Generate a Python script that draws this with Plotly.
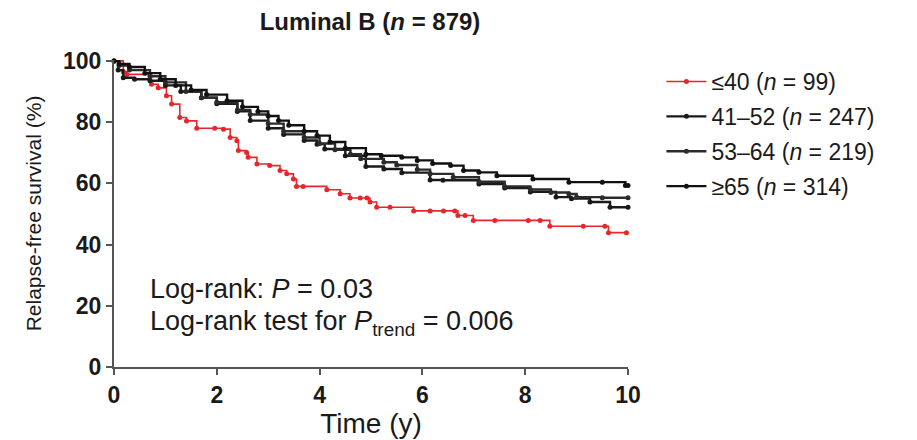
import plotly.graph_objects as go

# ---- data ----
t_le40 = [0, 0.18, 0.25, 0.73, 0.86, 1.02, 1.12, 1.28, 1.41, 1.61, 1.96, 2.13, 2.26, 2.39, 2.42, 2.58, 2.61,
          2.78, 3.03, 3.23, 3.36, 3.49, 3.55, 3.68, 4.14, 4.4, 4.59, 4.79, 4.92, 4.98, 5.11, 5.37, 5.83,
          6.15, 6.41, 6.63, 6.69, 6.83, 6.99, 7.41, 8.06, 8.29, 8.48, 9.13, 9.55, 9.62, 9.97]
s_le40 = [100, 96.5, 95.6, 92.4, 91.2, 88.6, 85.9, 81.5, 80.4, 78.0, 78.0, 77.7, 75.0, 73.9, 70.7, 70.1, 68.5,
          66.3, 65.8, 64.2, 63.1, 61.4, 59.0, 59.0, 57.9, 56.6, 55.2, 55.2, 55.2, 53.9, 52.2, 52.2, 51.0,
          51.0, 51.0, 51.0, 49.5, 49.5, 47.9, 47.9, 47.9, 47.9, 46.0, 46.0, 46.0, 43.9, 43.9]

t_4152 = [0, 0.08, 0.18, 0.4, 0.7, 1.0, 1.3, 1.7, 2.0, 2.4, 2.65, 3.0, 3.3, 3.7, 3.95, 4.1, 4.5, 4.9, 5.25,
          5.6, 6.15, 6.4, 7.1, 7.6, 8.1, 8.6, 8.9, 9.26, 9.65, 10.0]
s_4152 = [100, 97, 94.5, 94, 93.5, 92, 90, 88, 86, 83.5, 80.5, 78, 76, 74, 72.8, 71.2, 69, 65.5, 64.7,
          63.5, 61.1, 61.0, 59.8, 58.5, 57.2, 55.5, 55.0, 53.9, 52.2, 52.2]

t_5364 = [0, 0.1, 0.3, 0.7, 1.0, 1.4, 1.7, 2.0, 2.4, 2.65, 3.0, 3.3, 3.7, 4.0, 4.3, 4.6, 4.8, 5.25, 5.5,
          5.9, 6.15, 6.6, 7.1, 7.6, 8.1, 8.5, 8.85, 9.0, 9.5, 10.0]
s_5364 = [100, 98.5, 97, 95, 93, 90, 88, 86.5, 84, 82.5, 79.5, 77, 75, 73, 71, 69.5, 68, 66.9, 66,
          64.5, 63.1, 62, 60.5, 59, 58, 57, 56.5, 55.5, 55.3, 55.3]

t_ge65 = [0, 0.1, 0.3, 0.6, 0.9, 1.2, 1.5, 1.8, 2.2, 2.5, 2.8, 3.0, 3.2, 3.4, 3.7, 3.95, 4.2, 4.5, 4.9,
          5.2, 5.6, 5.9, 6.2, 6.55, 6.8, 7.1, 7.45, 8.15, 8.85, 9.5, 9.95, 10.0]
s_ge65 = [100, 99, 98, 96, 94, 92, 90.5, 89, 87, 85, 83.5, 82, 80.5, 79, 77, 75.6, 73.5, 71.5, 69.5,
          69, 68.5, 67.5, 66.5, 65.8, 64.2, 63.6, 62.5, 61.4, 60.4, 60.4, 59.3, 59.3]

labels = ["≤40 (<i>n</i> = 99)", "41–52 (<i>n</i> = 247)", "53–64 (<i>n</i> = 219)", "≥65 (<i>n</i> = 314)"]
colors = ["#e8262a", "#1a1a1a", "#2b2b2b", "#111111"]
widths = [1.6, 2.4, 2.4, 2.4]
series = [(t_le40, s_le40), (t_4152, s_4152), (t_5364, s_5364), (t_ge65, s_ge65)]

FONT = "Liberation Sans, Arial, sans-serif"

fig = go.Figure()
for i, ((t, s), lab, col, w) in enumerate(zip(series, labels, colors, widths)):
    fig.add_trace(go.Scatter(
        x=t, y=s, name=lab, mode="lines+markers", line=dict(color=col, width=w, shape="hv"),
        marker=dict(color=col, size=5), legendgroup=f"g{i}", cliponaxis=False,
    ))

fig.update_layout(
    width=917, height=440,
    margin=dict(l=114, r=289, t=60, b=73),
    paper_bgcolor="white", plot_bgcolor="white",
    font=dict(family=FONT, color="#1a1a1a"),
    title=dict(text="<b>Luminal B (<i>n</i> = 879)</b>", x=370 / 917, xanchor="center",
               y=1 - 22 / 440, yanchor="middle", font=dict(size=24, color="#1a1a1a")),
    showlegend=True,
    legend=dict(x=1.065, y=1.0, xanchor="left", yanchor="top", font=dict(size=23),
                traceorder="grouped", tracegroupgap=2, bgcolor="rgba(0,0,0,0)",
                itemwidth=40),
    xaxis=dict(range=[0, 10], tickvals=[0, 2, 4, 6, 8, 10], showgrid=False, zeroline=False,
               showline=True, linecolor="#555555", linewidth=2, ticks="outside", ticklen=6,
               tickwidth=2, tickcolor="#555555",
               tickfont=dict(size=23, family="Liberation Sans, Arial", weight="bold"),
               title=dict(text="Time (y)", font=dict(size=28), standoff=0)),
    yaxis=dict(range=[0, 100.3], tickvals=[0, 20, 40, 60, 80, 100], showgrid=False, zeroline=False,
               showline=True, linecolor="#555555", linewidth=2, ticks="outside", ticklen=6,
               tickwidth=2, tickcolor="#555555",
               tickfont=dict(size=23, family="Liberation Sans, Arial", weight="bold"),
               title=dict(text="Relapse-free survival (%)", font=dict(size=21), standoff=16)),
)

fig.add_annotation(xref="paper", yref="y", x=0.066, y=25.4, xanchor="left", yanchor="middle",
                   text="Log-rank: <i>P</i> = 0.03", showarrow=False, font=dict(size=27))
fig.add_annotation(xref="paper", yref="y", x=0.066, y=14.3, xanchor="left", yanchor="middle",
                   text="Log-rank test for <i>P</i><sub>trend</sub> = 0.006", showarrow=False,
                   font=dict(size=27))

fig.write_html("out.html")
